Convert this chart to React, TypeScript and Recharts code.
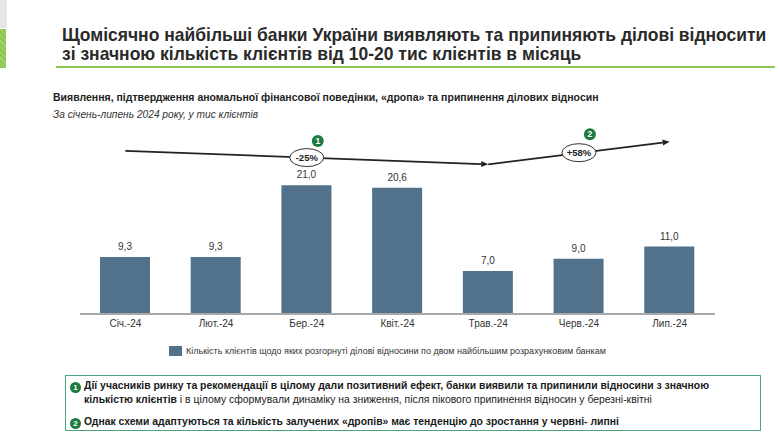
import {
  BarChart,
  Bar,
  XAxis,
  YAxis,
  LabelList,
  ReferenceLine,
  ReferenceDot,
} from "recharts";

const months = ["Січ.-24", "Лют.-24", "Бер.-24", "Квіт.-24", "Трав.-24", "Черв.-24", "Лип.-24"];
const clients = [9.3, 9.3, 21.0, 20.6, 7.0, 9.0, 11.0];

// trend arrows drawn above the bars (value on the same axis)
const trendDown = [
  { x: "Січ.-24", y: 26.6 },
  { x: "Трав.-24", y: 24.4 },
];
const trendUp = [
  { x: "Трав.-24", y: 24.4 },
  { x: "Лип.-24", y: 28.1 },
];
const changeLabels = [
  { x: "Бер.-24", y: 25.5, text: "-25%" },
  { x: "Черв.-24", y: 26.3, text: "+58%" },
];
const markers = [
  { x: "Бер.-24", y: 28.2, n: "1" },
  { x: "Черв.-24", y: 29.3, n: "2" },
];

const data = months.map((m, i) => ({ month: m, value: clients[i] }));

const FONT = "'Liberation Sans Narrow', 'Arial Narrow', 'Liberation Sans', Arial, sans-serif";
const BAR = "#51728a";
const GREEN = "#1c7c40";

const Arrow = (props: any) => {
  const { x1, y1, x2, y2 } = props;
  const ang = Math.atan2(y2 - y1, x2 - x1);
  const len = 7;
  const w = 3;
  const bx = x2 - len * Math.cos(ang);
  const by = y2 - len * Math.sin(ang);
  const px = -Math.sin(ang) * w;
  const py = Math.cos(ang) * w;
  return (
    <g>
      <line x1={x1} y1={y1} x2={bx} y2={by} stroke="#222" strokeWidth={1.8} />
      <polygon points={`${x2},${y2} ${bx + px},${by + py} ${bx - px},${by - py}`} fill="#222" />
    </g>
  );
};

const Badge = (text: string) => (props: any) => (
  <g>
    <ellipse cx={props.cx} cy={props.cy} rx={17} ry={9} fill="#fff" stroke="#333" strokeWidth={1} />
    <text
      x={props.cx}
      y={props.cy + 3.5}
      textAnchor="middle"
      fontSize={9.5}
      fontWeight="bold"
      fill="#222"
      fontFamily={FONT}
    >
      {text}
    </text>
  </g>
);

const Num = (n: string) => (props: any) => (
  <g>
    <circle cx={props.cx + 11} cy={props.cy} r={6} fill={GREEN} />
    <text
      x={props.cx + 11}
      y={props.cy + 3}
      textAnchor="middle"
      fontSize={8.5}
      fontWeight="bold"
      fill="#fff"
      fontFamily={FONT}
    >
      {n}
    </text>
  </g>
);

const Circle = ({ n }: { n: string }) => (
  <span
    style={{
      display: "inline-block",
      width: 11,
      height: 11,
      borderRadius: 6,
      background: GREEN,
      color: "#fff",
      fontSize: 8,
      lineHeight: "11px",
      textAlign: "center",
      marginRight: 3,
      verticalAlign: "-1px",
    }}
  >
    {n}
  </span>
);

export default function App() {
  return (
    <div
      style={{
        position: "fixed",
        left: 0,
        top: 0,
        width: 780,
        height: 435,
        background: "#fff",
        fontFamily: FONT,
        color: "#222",
        overflow: "hidden",
      }}
    >
      <div style={{ position: "absolute", left: 0, top: 0, width: 7, height: 28, background: "#e6e6e6" }} />
      <div
        style={{
          position: "absolute",
          left: 0,
          top: 29,
          width: 6,
          height: 39,
          background:
            "repeating-linear-gradient(45deg, #8cc850 0 3px, #a6d774 3px 4px), #8cc850",
        }}
      />
      <div
        style={{
          position: "absolute",
          left: 62,
          top: 25,
          fontSize: 19,
          fontWeight: "bold",
          lineHeight: "19px",
          color: "#2a2a2a",
          whiteSpace: "nowrap",
          transform: "scaleX(0.92)",
          transformOrigin: "0 0",
        }}
      >
        Щомісячно найбільші банки України виявляють та припиняють ділові відносити
        <br />
        зі значною кількість клієнтів від 10-20 тис клієнтів в місяць
      </div>
      <div style={{ position: "absolute", left: 56, top: 66, width: 719, height: 2, background: "#8cc850" }} />
      <div style={{ position: "absolute", left: 53, top: 91, fontSize: 10.5, fontWeight: "bold" }}>
        Виявлення, підтвердження аномальної фінансової поведінки, «дропа» та припинення ділових відносин
      </div>
      <div style={{ position: "absolute", left: 53, top: 109, fontSize: 10.2, fontStyle: "italic", color: "#333" }}>
        За січень-липень 2024 року, у тис клієнтів
      </div>

      <div style={{ position: "absolute", left: 0, top: 119 }}>
        <BarChart width={780} height={220} data={data} margin={{ top: 11, right: 65, bottom: 0, left: 80 }}>
          <YAxis hide domain={[0, 30]} />
          <XAxis
            dataKey="month"
            tickLine={false}
            axisLine={{ stroke: "#a8a8a8", strokeWidth: 2 }}
            tick={{ fontSize: 10, fill: "#333", fontFamily: FONT }}
            tickMargin={0}
            height={25}
          />
          <Bar dataKey="value" fill={BAR} barSize={50} isAnimationActive={false}>
            <LabelList
              dataKey="value"
              position="top"
              offset={7}
              fontSize={10}
              fill="#333"
              fontFamily={FONT}
              formatter={(v: any) => Number(v).toFixed(1).replace(".", ",")}
            />
          </Bar>
          <ReferenceLine segment={trendDown} shape={Arrow} ifOverflow="visible" />
          <ReferenceLine segment={trendUp} shape={Arrow} ifOverflow="visible" />
          {changeLabels.map((c) => (
            <ReferenceDot key={c.text} x={c.x} y={c.y} shape={Badge(c.text)} ifOverflow="visible" />
          ))}
          {markers.map((m) => (
            <ReferenceDot key={m.n} x={m.x} y={m.y} shape={Num(m.n)} ifOverflow="visible" />
          ))}
        </BarChart>
      </div>

      <div
        style={{
          position: "absolute",
          left: 169,
          top: 346,
          fontSize: 9,
          color: "#333",
          display: "flex",
          alignItems: "center",
        }}
      >
        <span style={{ display: "inline-block", width: 13, height: 10, background: BAR, marginRight: 4 }} />
        Кількість клієнтів щодо яких розгорнуті ділові відносини по двом найбільшим розрахунковим банкам
      </div>

      <div
        style={{
          position: "absolute",
          left: 65,
          top: 375,
          width: 696,
          height: 56,
          border: "1.5px solid #4aa477",
          boxSizing: "border-box",
          fontSize: 10.4,
          color: "#1a1a1a",
          padding: "3px 0 0 4px",
          lineHeight: "14px",
          whiteSpace: "nowrap",
        }}
      >
        <div style={{ fontWeight: "bold" }}>
          <Circle n="1" />
          Дії учасників ринку та рекомендації в цілому дали позитивний ефект, банки виявили та припинили відносини з значною
        </div>
        <div style={{ paddingLeft: 14 }}>
          <b>кількістю клієнтів</b> і в цілому сформували динаміку на зниження, після пікового припинення відносин у березні-квітні
        </div>
        <div style={{ fontWeight: "bold", marginTop: 8 }}>
          <Circle n="2" />
          Однак схеми адаптуються та кількість залучених «дропів» має тенденцію до зростання у червні- липні
        </div>
      </div>
    </div>
  );
}
